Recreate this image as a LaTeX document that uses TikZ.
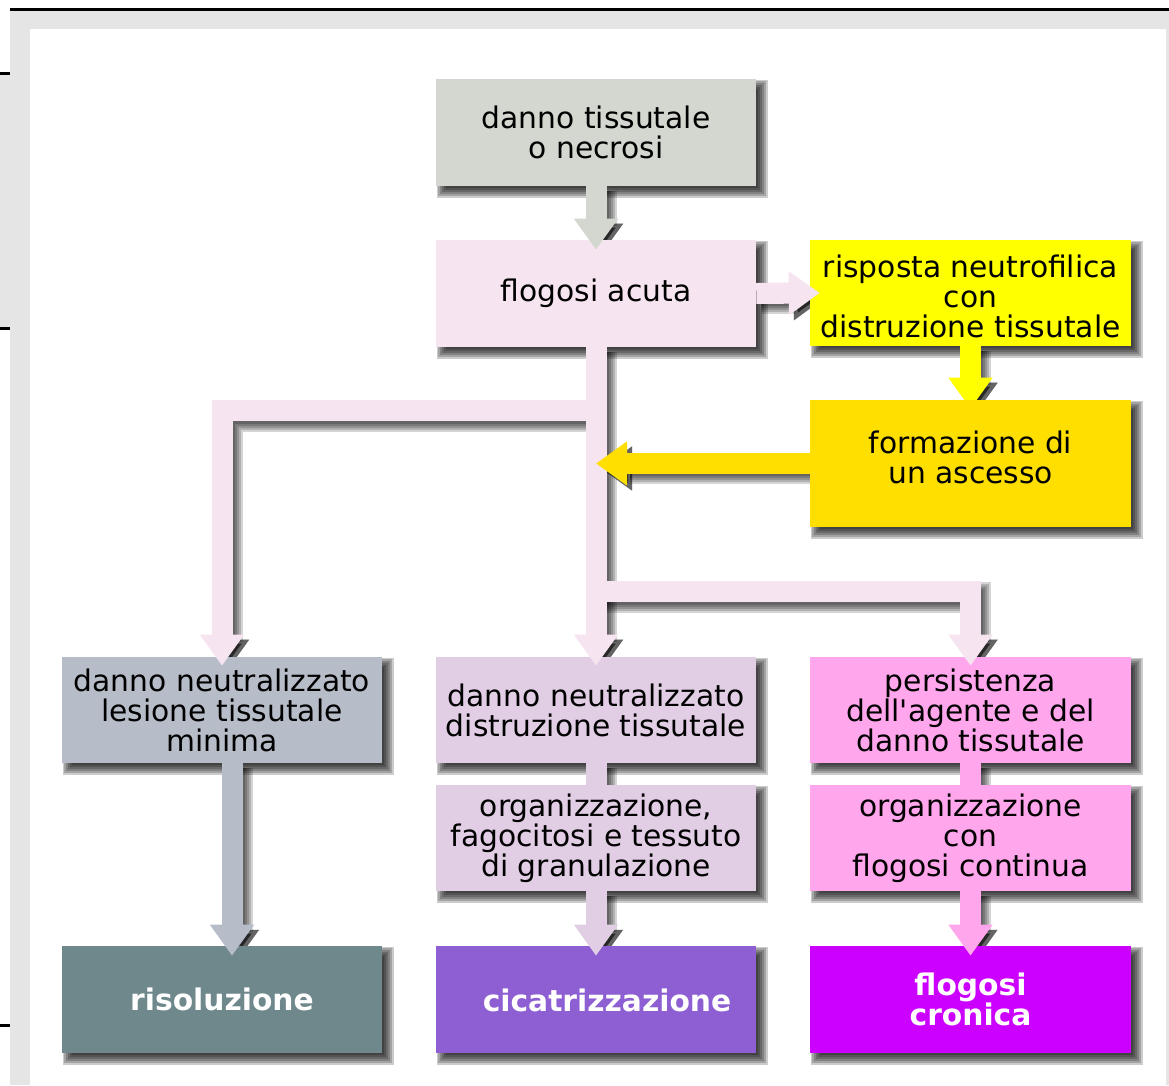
\documentclass[tikz,border=0pt]{standalone}
\usepackage{fontspec}
\setmainfont{DejaVu Sans}
\usetikzlibrary{arrows.meta,calc}
\pgfdeclarelayer{back}
\pgfdeclarelayer{shad}
\pgfdeclarelayer{mid}
\pgfsetlayers{back,shad,mid,main}
\definecolor{frameg}{HTML}{E5E5E5}
\definecolor{cA}{HTML}{D3D7CF}
\definecolor{cB}{HTML}{F6E5F0}
\definecolor{cY}{HTML}{FFFF00}
\definecolor{cG}{HTML}{FFDF00}
\definecolor{cC}{HTML}{B7BDC8}
\definecolor{cD}{HTML}{6F888C}
\definecolor{cE}{HTML}{E1CDE4}
\definecolor{cF}{HTML}{8D5FD3}
\definecolor{cH}{HTML}{FFA6EC}
\definecolor{cI}{HTML}{CC00FF}
\newcommand\boxshadow[1]{%
  \foreach \a/\b in {10/2,8/4,6/6,4/8,2/10,1/12}{%
    \fill[black,opacity=0.2] ([shift={(\a,\a)}]#1.north west) rectangle ([shift={(\b,\b)}]#1.south east);}}
\newcommand\connshadow[2]{%
  \foreach \w in {15,19,23,27,31}{%
    \draw[black,opacity=0.17,line width=\w*0.75pt,line join=miter,transform canvas={shift={(5,5)}},#1] #2;}}
\tikzset{
  box/.style={rectangle, inner sep=0pt, minimum width=240pt, minimum height=80.25pt,
    align=center, font=\fontsize{22.3}{22.5}\selectfont, text=black},
  wide/.style={minimum width=240.75pt},
  txt/.style={inner sep=0pt, align=center, font=\fontsize{22.3}{22.5}\selectfont, text=black},
  btxt/.style={font=\fontsize{22.3}{22.5}\selectfont\bfseries, text=white},
  link/.style={line width=15.75pt, line join=miter},
  conn/.style={link, -{Triangle[length=23.25pt,width=31.5pt]}},
  tipped/.style={-{Triangle[length=23.25pt,width=31.5pt]}}
}
\begin{document}
\begin{tikzpicture}[x=0.75pt,y=-0.75pt]
\useasboundingbox (0,0) rectangle (1169,1085);
% frame
\begin{pgfonlayer}{back}
\fill[frameg] (10,10) rectangle (1169,1085);
\fill[white] (30,29) rectangle (1166,1085);
\fill[frameg] (0,75) rectangle (10,327);
\draw[line width=2.25pt] (10,9.5) -- (1169,9.5);
\draw[line width=2.25pt] (0,73.5) -- (10,73.5);
\draw[line width=2.25pt] (0,328.5) -- (10,328.5);
\draw[line width=2.25pt] (0,1025.5) -- (10,1025.5);
\end{pgfonlayer}
% boxes
\node[box, fill=cA] (b1) at (596,132.5) {danno tissutale\\o necrosi};
\node[box, fill=cB] (b2) at (596,293.5) {flogosi acuta};
\node[box, wide, fill=cY, minimum height=79.5pt] (b3) at (970.5,293) {};
\node[txt] (t3) at ([yshift=-2.25pt]b3.center) {risposta neutrofilica\\con\\distruzione tissutale};
\node[box, wide, fill=cG, minimum height=95.25pt] (b4) at (970.5,463.5) {};
\node[txt] (t4) at ([yshift=4.5pt]b4.center) {formazione di\\un ascesso};
\node[box, fill=cC, minimum height=79.5pt] (b5) at (222,710) {danno neutralizzato\\lesione tissutale\\minima};
\node[box, fill=cD, btxt] (b6) at (222,999.5) {risoluzione};
\node[box, fill=cE, minimum height=79.5pt] (b7) at (596,710) {danno neutralizzato\\distruzione tissutale};
\node[box, fill=cE, minimum height=79.5pt] (b8) at (596,838) {organizzazione,\\fagocitosi e tessuto\\di granulazione};
\node[box, fill=cF] (b9) at (596,999.5) {};
\node[txt, btxt] (t9) at ([xshift=8.25pt,yshift=-1pt]b9.center) {cicatrizzazione};
\node[box, wide, fill=cH, minimum height=79.5pt] (b10) at (970.5,710) {persistenza\\dell\textquotesingle agente e del\\danno tissutale};
\node[box, wide, fill=cH, minimum height=79.5pt] (b11) at (970.5,838) {organizzazione\\con\\flogosi continua};
\node[box, wide, fill=cI, btxt] (b12) at (970.5,999.5) {flogosi\\cronica};
\coordinate (j1) at (b2.south |- b4.west);
% shadows
\begin{pgfonlayer}{shad}
\foreach \n in {b1,b2,b3,b4,b5,b6,b7,b8,b9,b10,b11,b12}{\boxshadow{\n}}
\connshadow{tipped, shorten >=-7.5pt}{(b1.south) -- (b2.north)}
\connshadow{tipped, shorten >=-7.5pt}{(b2.east) -- (b3.west)}
\connshadow{tipped, shorten >=-6.75pt}{(b3.south) -- (b4.north)}
\connshadow{tipped, shorten >=-6.75pt}{(b2.south) -- (b7.north)}
\connshadow{tipped, shorten >=-6.75pt}{($(b2.south)+(0,64)$) -| (b5.north)}
\connshadow{tipped, shorten >=-6.75pt}{($(b2.south)+(0,245)$) -| (b10.north)}
\connshadow{tipped}{(b4.west) -- (j1)}
\connshadow{tipped, shorten >=-7.5pt}{([xshift=7.5pt]b5.south) -- ([xshift=7.5pt]b6.north)}
\connshadow{}{(b7.south) -- (b8.north)}
\connshadow{tipped, shorten >=-7.5pt}{(b8.south) -- (b9.north)}
\connshadow{}{(b10.south) -- (b11.north)}
\connshadow{tipped, shorten >=-7.5pt}{(b11.south) -- (b12.north)}
\end{pgfonlayer}
\begin{pgfonlayer}{mid}
\draw[conn, cY, shorten >=-6.75pt] (b3.south) -- (b4.north);
\end{pgfonlayer}
% connectors
\draw[conn, cA, shorten >=-7.5pt] (b1.south) -- (b2.north);
\draw[conn, cB, shorten >=-7.5pt] (b2.east) -- (b3.west);
\draw[conn, cB, shorten >=-6.75pt] ($(b2.south)+(0,63)$) -| (b5.north);
\draw[conn, cB, shorten >=-6.75pt] ($(b2.south)+(0,244)$) -| (b10.north);
\draw[conn, cB, shorten >=-6.75pt] (b2.south) -- (b7.north);
\draw[conn, cG] (b4.west) -- (j1);
\draw[conn, cC, shorten >=-7.5pt] ([xshift=7.5pt]b5.south) -- ([xshift=7.5pt]b6.north);
\draw[link, cE] (b7.south) -- (b8.north);
\draw[conn, cE, shorten >=-7.5pt] (b8.south) -- (b9.north);
\draw[link, cH] (b10.south) -- (b11.north);
\draw[conn, cH, shorten >=-7.5pt] (b11.south) -- (b12.north);
\end{tikzpicture}
\end{document}
